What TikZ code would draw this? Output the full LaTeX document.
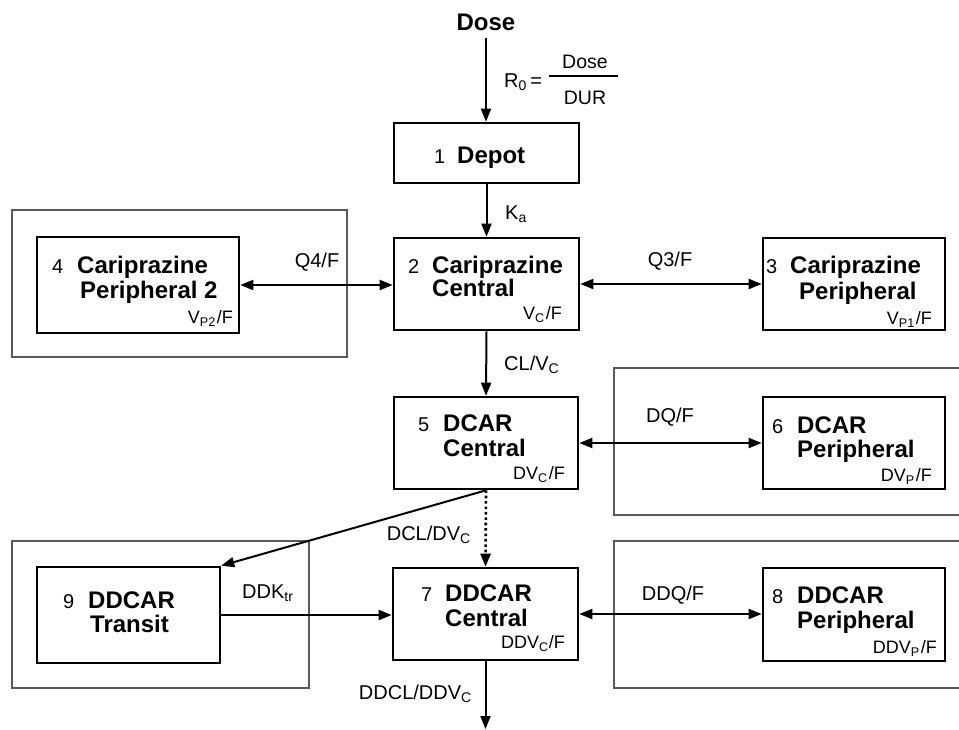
\documentclass[tikz,border=0pt]{standalone}
\usepackage{fontspec}
\setmainfont{Liberation Sans}
\usetikzlibrary{arrows.meta,calc}
\newcommand{\sbs}[1]{\textsubscript{#1}}
\begin{document}
\begin{tikzpicture}[x=1pt,y=-1pt,
  comp/.style 2 args={draw, line width=2.6pt, inner sep=0pt, minimum width=#1, minimum height=#2},
  grp/.style={draw=black!65, line width=1.3pt},
  conn/.style={line width=2pt, -{Triangle[length=13pt,width=10pt]}},
  dconn/.style={line width=2pt, {Triangle[length=13pt,width=10pt]}-{Triangle[length=13pt,width=10pt]}},
  dotconn/.style={line width=2.6pt, dash pattern=on 2.6pt off 2.8pt, -{Triangle[length=13pt,width=10pt]}},
  num/.style={anchor=base west, inner sep=0pt, font=\fontsize{20}{24}\selectfont},
  bname/.style={anchor=base west, inner sep=0pt, font=\fontsize{24}{28}\selectfont\bfseries},
  vol/.style={anchor=base east, inner sep=0pt, font=\fontsize{18}{22}\selectfont},
  lab/.style={inner sep=0pt, font=\fontsize{20}{24}\selectfont},
]
\useasboundingbox[fill=white] (0,0) rectangle (959,729);

% group frames
\draw[grp] (12,210) rectangle (347,357);
\draw[grp] (962,368) -- (614,368) -- (614,515) -- (962,515);
\draw[grp] (12,541) rectangle (309,688);
\draw[grp] (962,541) -- (614,541) -- (614,688) -- (962,688);

% compartments
\node[comp={185pt}{60pt}] (b1) at (486.5,153) {};
\node[comp={185pt}{92pt}] (b2) at (486.5,284) {};
\node[comp={202pt}{96pt}] (b4) at (138,285) {};
\node[comp={182pt}{92pt}] (b3) at (854,284) {};
\node[comp={184pt}{92pt}] (b5) at (486,443) {};
\node[comp={182pt}{92pt}] (b6) at (854,443) {};
\node[comp={185pt}{92pt}] (b7) at (485.5,614) {};
\node[comp={182pt}{93pt}] (b8) at (854,614.5) {};
\node[comp={183pt}{96pt}] (b9) at (128.5,615) {};

% texts in compartments
\node[num] (n1) at (434,163) {1};
\node[bname] (t1) at (457,163) {Depot};

\node[num] (n2) at (408,273.4) {2};
\node[bname] (t2a) at (432,273.4) {Cariprazine};
\node[bname] (t2b) at (432,296.4) {Central};
\node[vol] (v2) at (562,319.4) {V\sbs{C}\kern1pt/F};

\node[num] (n4) at (52,273.4) {4};
\node[bname] (t4a) at (77,273.4) {Cariprazine};
\node[bname] (t4b) at (80,298.4) {Peripheral 2};
\node[vol] (v4) at (233,323.4) {V\sbs{P2}\kern1pt/F};

\node[num] (n3) at (766,273.4) {3};
\node[bname] (t3a) at (790,273.4) {Cariprazine};
\node[bname] (t3b) at (799,299.4) {Peripheral};
\node[vol] (v3) at (932,324.4) {V\sbs{P1}\kern1pt/F};

\node[num] (n5) at (418,431.4) {5};
\node[bname] (t5a) at (443,431.4) {DCAR};
\node[bname] (t5b) at (443,456.4) {Central};
\node[vol] (v5) at (565,479.4) {DV\sbs{C}\kern1pt/F};

\node[num] (n6) at (772,433.4) {6};
\node[bname] (t6a) at (797,433.4) {DCAR};
\node[bname] (t6b) at (797,457.4) {Peripheral};
\node[vol] (v6) at (932,481.4) {DV\sbs{P}\kern1pt/F};

\node[num] (n7) at (421,601.4) {7};
\node[bname] (t7a) at (445,601.4) {DDCAR};
\node[bname] (t7b) at (445,626.4) {Central};
\node[vol] (v7) at (565,648.4) {DDV\sbs{C}/F};

\node[num] (n8) at (772,603.4) {8};
\node[bname] (t8a) at (797,603.4) {DDCAR};
\node[bname] (t8b) at (797,628.4) {Peripheral};
\node[vol] (v8) at (937,653.4) {DDV\sbs{P}\kern1pt/F};

\node[num] (n9) at (63,608.4) {9};
\node[bname] (t9a) at (88,608.4) {DDCAR};
\node[bname] (t9b) at (90,632.4) {Transit};

% dose input
\node[inner sep=0pt, anchor=base, font=\fontsize{24}{28}\selectfont\bfseries] (dose) at (486,30.5) {Dose};
\coordinate (dosestart) at (486,38);
\draw[conn] (dosestart) -- (dosestart |- b1.north);
\node[lab, anchor=base west] (r0) at (504,87) {R\sbs{0}\,=};
\node[inner sep=0pt, anchor=base, font=\fontsize{19.5}{23}\selectfont] (fnum) at (585,68) {Dose};
\node[inner sep=0pt, anchor=base, font=\fontsize{19.5}{23}\selectfont] (fden) at (585,104) {DUR};
\draw[line width=1.2pt] (549,76) -- (618,76);

% connectors
\draw[conn] (b1.south) -- (b2.north);
\node[lab, anchor=base west] (ka) at (505,219) {K\sbs{a}};

\draw[dconn] (b4.east) -- (b4.east -| b2.west);
\node[lab, anchor=base] (q4) at (317,267) {Q4/F};
\draw[dconn] (b2.east) -- (b2.east -| b3.west);
\node[lab, anchor=base] (q3) at (670,266) {Q3/F};

\draw[conn] (b2.south) -- (b5.north);
\node[lab, anchor=base west] (cl) at (504,370) {CL/V\sbs{C}};

\draw[dconn] (b5.east) -- (b5.east -| b6.west);
\node[lab, anchor=base] (dq) at (670,422) {DQ/F};

\draw[dotconn] (b5.south) -- (b7.north);
\node[lab, anchor=base east] (dcl) at (471,540) {DCL/DV\sbs{C}};

\draw[conn] (b5.south) -- (b9.north east);

\draw[conn] (b9.east) -- (b9.east -| b7.west);
\node[lab, anchor=base west] (ddk) at (242,598) {DDK\sbs{tr}};

\draw[dconn] (b7.east) -- (b7.east -| b8.west);
\node[lab, anchor=base] (ddq) at (673,600) {DDQ/F};

\coordinate (outend) at (485.5,729);
\draw[conn] (b7.south) -- (outend);
\node[lab, anchor=base east] (ddcl) at (472,699) {DDCL/DDV\sbs{C}};
\end{tikzpicture}
\end{document}
